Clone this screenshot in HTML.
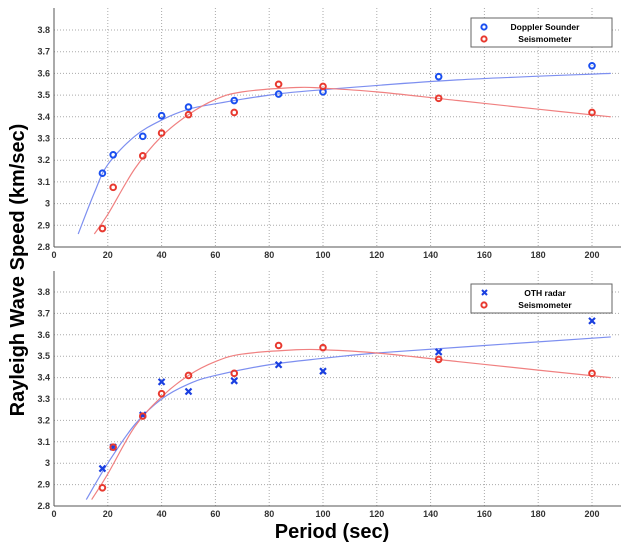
<!DOCTYPE html>
<html><head><meta charset="utf-8"><style>
body{margin:0;background:#fff;width:625px;height:544px;overflow:hidden;font-family:"Liberation Sans",sans-serif}
svg{display:block}
</style></head><body>
<svg id="c" width="625" height="544"></svg>
<script>
const periods=[18,22,33,40,50,67,83.5,100,143,200];
const dopplerSpeed=[3.14,3.225,3.31,3.405,3.445,3.475,3.505,3.515,3.585,3.635];
const seismoSpeed=[2.885,3.075,3.22,3.325,3.41,3.42,3.55,3.54,3.485,3.42];
const othSpeed=[2.975,3.075,3.225,3.38,3.335,3.385,3.46,3.43,3.52,3.665];
const fitTopBlueX=[9,15,20,30,40,50,60,80,100,150,207];
const fitTopBlueY=[2.86,3.05,3.18,3.31,3.385,3.435,3.46,3.50,3.525,3.57,3.60];
const fitRedX=[15,20,30,40,50,60,70,90,100,120,150,180,207];
const fitRedY=[2.86,2.95,3.16,3.31,3.41,3.48,3.515,3.535,3.532,3.515,3.475,3.435,3.40];
const fitBotBlueX=[12,20,30,40,50,60,80,100,120,160,207];
const fitBotBlueY=[2.83,3.0,3.18,3.30,3.37,3.41,3.46,3.49,3.515,3.55,3.59];
const fitBotRedX=[14,20,30,40,50,60,70,90,100,120,150,180,207];
const fitBotRedY=[2.83,2.95,3.17,3.31,3.41,3.475,3.51,3.53,3.53,3.515,3.475,3.435,3.40];
const xTicks=[0,20,40,60,80,100,120,140,160,180,200];
const yTicks=[2.8,2.9,3,3.1,3.2,3.3,3.4,3.5,3.6,3.7,3.8];
const NS="http://www.w3.org/2000/svg";
const svg=document.getElementById('c');
function mk(t,a,p){const e=document.createElementNS(NS,t);for(const k in a)e.setAttribute(k,a[k]);(p||svg).appendChild(e);return e;}
function smooth(pts){
  let d='M'+pts[0][0]+','+pts[0][1];
  for(let i=0;i<pts.length-1;i++){
    const p0=pts[i-1]||pts[i],p1=pts[i],p2=pts[i+1],p3=pts[i+2]||p2;
    const c1=[p1[0]+(p2[0]-p0[0])/6,p1[1]+(p2[1]-p0[1])/6];
    const c2=[p2[0]-(p3[0]-p1[0])/6,p2[1]-(p3[1]-p1[1])/6];
    d+=`C${c1[0]},${c1[1]} ${c2[0]},${c2[1]} ${p2[0]},${p2[1]}`;
  }
  return d;
}
function panel(top,bottom,y38,y28,name,blueY,blueFitX,blueFitY,redFitX,redFitY,cross,legendY,blueLabel){
  const L=54,R=621;
  const sx=v=>L+v*2.69;
  const sy=v=>y28+(v-2.8)*(y38-y28)/1.0;
  const g=mk('g',{});
  
  
  xTicks.forEach(t=>{const x=sx(t);
    if(t>0)mk('line',{x1:x,x2:x,y1:top,y2:bottom,stroke:'#aaa','stroke-dasharray':'1,2','stroke-width':1},g);
    const tx=mk('text',{x:x,y:bottom+11,'font-size':9,'font-weight':'bold','text-anchor':'middle',fill:'#333'},g);tx.textContent=t;
    });
  yTicks.forEach(t=>{const y=sy(t);
    if(t>2.8)mk('line',{x1:L,x2:R,y1:y,y2:y,stroke:'#aaa','stroke-dasharray':'1,2','stroke-width':1},g);
    const tx=mk('text',{x:L-4,y:y+3,'font-size':9,'font-weight':'bold','text-anchor':'end',fill:'#333'},g);tx.textContent=(t===3?'3':t.toFixed(1));
    });
  mk('line',{x1:L,x2:L,y1:top,y2:bottom,stroke:'#555'},g);
  mk('line',{x1:L,x2:R,y1:bottom,y2:bottom,stroke:'#555'},g);
  const bf=mk('path',{d:smooth(blueFitX.map((x,i)=>[sx(x),sy(blueFitY[i])])),fill:'none',stroke:'#7d8ff0','stroke-width':1.2},g);
  
  const rf=mk('path',{d:smooth(redFitX.map((x,i)=>[sx(x),sy(redFitY[i])])),fill:'none',stroke:'#f08080','stroke-width':1.2},g);
  
  periods.forEach((p,i)=>{
    const x=sx(p),y=sy(blueY[i]);let m;
    if(cross){m=mk('path',{d:`M${x-3},${y-3}L${x+3},${y+3}M${x-3},${y+3}L${x+3},${y-3}`,stroke:'#1a3fe0','stroke-width':2.2},g);}
    else m=mk('circle',{cx:x,cy:y,r:2.8,fill:'none',stroke:'#1a4ff0','stroke-width':2},g);
    
    const r=mk('circle',{cx:x,cy:sy(seismoSpeed[i]),r:2.8,fill:'none',stroke:'#e8392f','stroke-width':2},g);
    
  });
  const lg=mk('g',{},g);
  mk('rect',{x:471,y:legendY,width:141,height:29,fill:'#fff',stroke:'#666'},lg);
  if(cross)mk('path',{d:`M482,${legendY+6}l5,5m-5,0l5,-5`,stroke:'#1a3fe0','stroke-width':2},lg);
  else mk('circle',{cx:484,cy:legendY+9,r:2.6,fill:'none',stroke:'#1a4ff0','stroke-width':2},lg);
  mk('circle',{cx:484,cy:legendY+21,r:2.6,fill:'none',stroke:'#e8392f','stroke-width':2},lg);
  let t=mk('text',{x:545,y:legendY+12,'font-size':8.5,'font-weight':'bold','text-anchor':'middle'},lg);t.textContent=blueLabel;
  t=mk('text',{x:545,y:legendY+24,'font-size':8.5,'font-weight':'bold','text-anchor':'middle'},lg);t.textContent='Seismometer';
}
panel(8,247,30,247,'top-panel',dopplerSpeed,fitTopBlueX,fitTopBlueY,fitRedX,fitRedY,false,18,'Doppler Sounder');
panel(271,506,292,506,'bottom-panel',othSpeed,fitBotBlueX,fitBotBlueY,fitBotRedX,fitBotRedY,true,284,'OTH radar');
let yt=mk('text',{x:0,y:0,'font-size':20,'font-weight':'bold','text-anchor':'middle',transform:'translate(24,270) rotate(-90)'});
yt.textContent='Rayleigh Wave Speed (km/sec)';

let xt=mk('text',{x:332,y:538,'font-size':20,'font-weight':'bold','text-anchor':'middle','xml:space':'preserve'});
xt.textContent='Period  (sec)';

</script>
</body></html>
